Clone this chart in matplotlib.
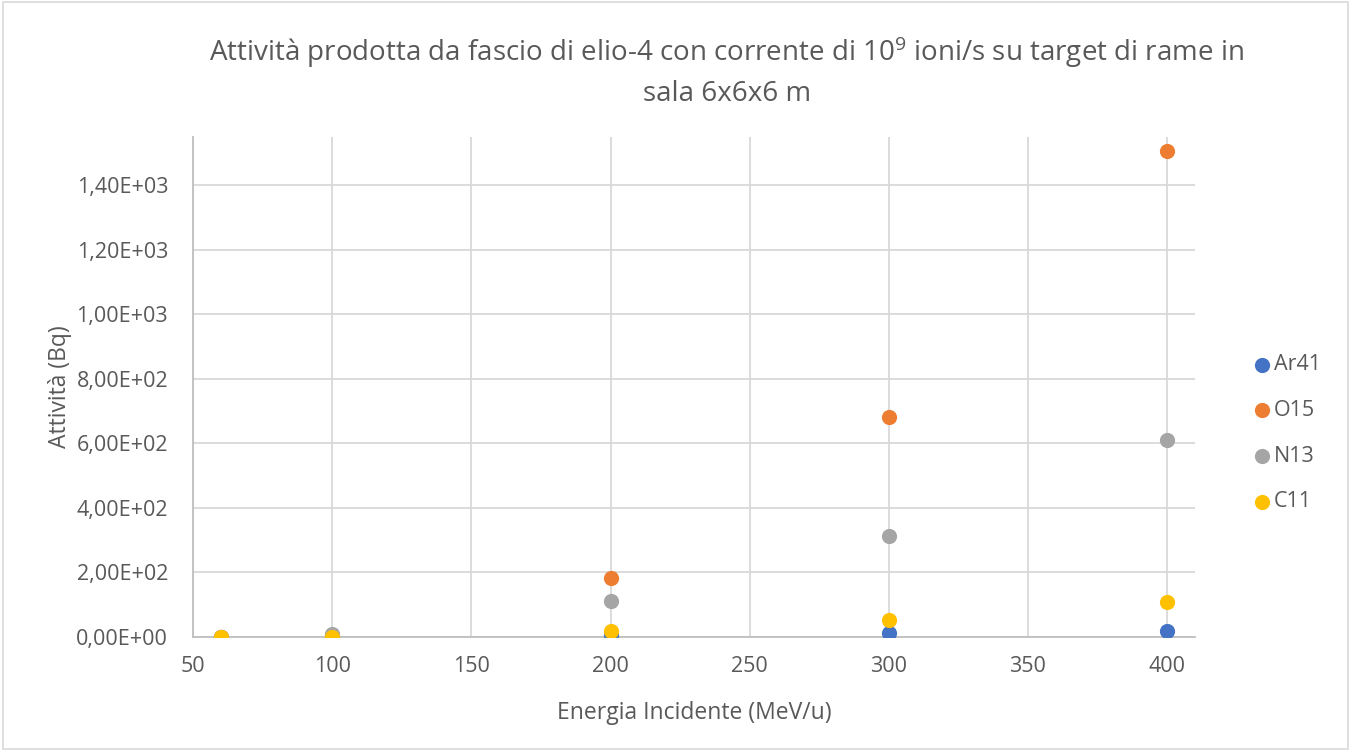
import matplotlib
matplotlib.use("Agg")
import matplotlib.pyplot as plt
from matplotlib.ticker import FuncFormatter

plt.rcParams['font.family'] = ['Open Sans', 'DejaVu Sans']
plt.rcParams['mathtext.default'] = 'regular'

energia = [60, 100, 200, 300, 400]
ar41 = [0, 0, 6, 12, 19]
o15 = [0, 5, 183, 681, 1505]
n13 = [0, 8, 111, 313, 610]
c11 = [0, 0, 19, 53, 108]

series = [("Ar41", ar41, "#4472C4"),
          ("O15", o15, "#ED7D31"),
          ("N13", n13, "#A5A5A5"),
          ("C11", c11, "#FFC000")]

text_col = "#595959"
grid_col = "#D9D9D9"

fig = plt.figure(figsize=(13.51, 7.51), dpi=100)
ax = fig.add_axes([0.1429, 0.1518, 0.7416, 0.6658])

for name, vals, col in series:
    ax.scatter(energia, vals, s=120, color=col, label=name, zorder=3, linewidths=0)

ax.set_xlim(50, 410)
ax.set_ylim(0, 1550)
ax.set_xticks(range(50, 401, 50))
ax.set_yticks(range(0, 1401, 200))
ax.yaxis.set_major_formatter(FuncFormatter(lambda v, p: ("%.2E" % v).replace(".", ",")))
ax.grid(True, color=grid_col, linewidth=1.3)
ax.set_axisbelow(True)
for s in ["top", "right"]:
    ax.spines[s].set_visible(False)
ax.spines["left"].set_color("#BFBFBF")
ax.spines["bottom"].set_color("#BFBFBF")
ax.spines["left"].set_linewidth(1.3)
ax.spines["bottom"].set_linewidth(1.3)
ax.tick_params(axis="y", length=0, labelsize=15.5, labelcolor=text_col, pad=18)
ax.tick_params(axis="x", length=0, labelsize=15.5, labelcolor=text_col, pad=14)

ax.set_xlabel("Energia Incidente (MeV/u)", fontsize=16.5, color=text_col, labelpad=17)
ax.set_ylabel("Attività (Bq)", fontsize=16.5, color=text_col, labelpad=3)

fig.text(0.538, 0.905, "Attività prodotta da fascio di elio-4 con corrente di 10$^{9}$ ioni/s su target di rame in\nsala 6x6x6 m",
         ha="center", va="center", fontsize=20, color=text_col, linespacing=1.45)

leg = ax.legend(loc="center left", bbox_to_anchor=(0.92, 0.423), bbox_transform=fig.transFigure,
                frameon=False, fontsize=15.5, labelspacing=1.15, handletextpad=0.15,
                handlelength=0.8, markerscale=1.0, borderpad=0)
for t in leg.get_texts():
    t.set_color(text_col)

fig.patches.append(plt.Rectangle((0.002, 0.002), 0.996, 0.996, transform=fig.transFigure,
                                 fill=False, edgecolor="#D9D9D9", linewidth=1.2))

fig.savefig("out.png", dpi=100, facecolor="white")
